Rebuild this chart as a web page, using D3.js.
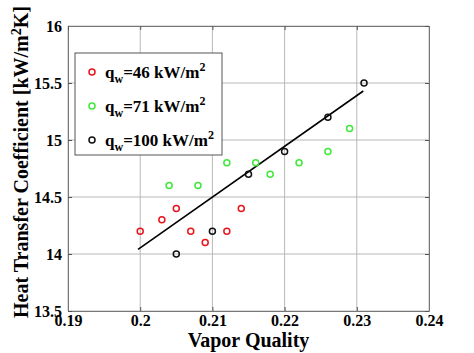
<!DOCTYPE html>
<html>
<head>
<meta charset="utf-8">
<script src="https://cdn.jsdelivr.net/npm/d3@7"></script>
<style>
body { margin: 0; background: #fff; }
text { font-family: "Liberation Serif", "Times New Roman", serif; font-weight: bold; }
</style>
</head>
<body>
<script>
// donnees
var q46 = [[0.200, 14.2], [0.203, 14.3], [0.205, 14.4], [0.207, 14.2], [0.209, 14.1], [0.212, 14.2], [0.214, 14.4]];
var q71 = [[0.204, 14.6], [0.208, 14.6], [0.212, 14.8], [0.216, 14.8], [0.218, 14.7], [0.222, 14.8], [0.226, 14.9], [0.229, 15.1]];
var q100 = [[0.205, 14.0], [0.210, 14.2], [0.215, 14.7], [0.220, 14.9], [0.226, 15.2], [0.231, 15.5]];
var fitLine = [[0.1997, 14.04], [0.2309, 15.43]];
var xTicks = [0.19, 0.2, 0.21, 0.22, 0.23, 0.24];
var yTicks = [13.5, 14, 14.5, 15, 15.5, 16];
var legendNames = ["46", "71", "100"];

var larg = 474, haut = 353;
var pLeft = 68, pRight = 429, pTop = 26, pBottom = 311;

var xScale = d3.scaleLinear().domain([0.19, 0.24]).range([pLeft, pRight]);
var yScale = d3.scaleLinear().domain([13.5, 16]).range([pBottom, pTop]);

var svg = d3.select("body").append("svg")
	.attr("width", larg)
	.attr("height", haut);

// grille
svg.append("g").selectAll("line").data(xTicks).enter().append("line")
	.attr("x1", function(d) { return xScale(d); })
	.attr("x2", function(d) { return xScale(d); })
	.attr("y1", pTop).attr("y2", pBottom)
	.attr("stroke", "#b8b8b8").attr("stroke-width", 1);
svg.append("g").selectAll("line").data(yTicks).enter().append("line")
	.attr("y1", function(d) { return yScale(d); })
	.attr("y2", function(d) { return yScale(d); })
	.attr("x1", pLeft).attr("x2", pRight)
	.attr("stroke", "#b8b8b8").attr("stroke-width", 1);

// axes
var fmt = function(d) { return String(d); };
var gx = svg.append("g").attr("transform", "translate(0," + pBottom + ")")
	.call(d3.axisBottom(xScale).tickValues(xTicks).tickFormat(fmt).tickSizeInner(-4).tickSizeOuter(0).tickPadding(5));
var gy = svg.append("g").attr("transform", "translate(" + pLeft + ",0)")
	.call(d3.axisLeft(yScale).tickValues(yTicks).tickFormat(fmt).tickSizeInner(-4).tickSizeOuter(0).tickPadding(6));
svg.append("g").attr("transform", "translate(0," + pTop + ")")
	.call(d3.axisTop(xScale).tickValues(xTicks).tickFormat("").tickSizeInner(-4).tickSizeOuter(0));
svg.append("g").attr("transform", "translate(" + pRight + ",0)")
	.call(d3.axisRight(yScale).tickValues(yTicks).tickFormat("").tickSizeInner(-4).tickSizeOuter(0));
svg.selectAll(".domain").attr("stroke", "#777");
svg.selectAll(".tick line").attr("stroke", "#555");
svg.selectAll(".tick text").attr("font-size", "16px").attr("fill", "#000")
	.style("font-family", "Liberation Serif").style("font-weight", "bold");
gx.selectAll(".tick text").attr("dy", "0.6em");

// droite de tendance
svg.append("line")
	.attr("x1", xScale(fitLine[0][0])).attr("y1", yScale(fitLine[0][1]))
	.attr("x2", xScale(fitLine[1][0])).attr("y2", yScale(fitLine[1][1]))
	.attr("stroke", "#000").attr("stroke-width", 1.6);

var series = [[q46, "#e8141c"], [q71, "#3ee83a"], [q100, "#111"]];
series.forEach(function(s) {
	svg.append("g").selectAll("circle").data(s[0]).enter().append("circle")
		.attr("cx", function(d) { return xScale(d[0]); })
		.attr("cy", function(d) { return yScale(d[1]); })
		.attr("r", 3)
		.attr("fill", "none")
		.attr("stroke", s[1])
		.attr("stroke-width", 1.5);
});

// legende
var leg = svg.append("g");
leg.append("rect").attr("x", 75).attr("y", 53).attr("width", 147).attr("height", 102)
	.attr("fill", "#fff").attr("stroke", "#555").attr("stroke-width", 1);
series.forEach(function(s, i) {
	var yy = 72 + i * 34;
	leg.append("circle").attr("cx", 92).attr("cy", yy).attr("r", 3)
		.attr("fill", "none").attr("stroke", s[1]).attr("stroke-width", 1.5);
	var t = leg.append("text").attr("x", 105).attr("y", yy + 6).attr("font-size", "17px").attr("fill", "#000");
	t.append("tspan").text("q");
	t.append("tspan").attr("font-size", "12px").attr("dy", 5).text("w");
	t.append("tspan").attr("dy", -5).text("=" + legendNames[i] + " kW/m");
	t.append("tspan").attr("font-size", "12px").attr("dy", -7).text("2");
});

// titres des axes
svg.append("text").attr("x", (pLeft + pRight) / 2).attr("y", 347)
	.attr("text-anchor", "middle").attr("font-size", "20px").attr("fill", "#000")
	.text("Vapor Quality");
var yl = svg.append("text").attr("transform", "translate(28,162) rotate(-90)")
	.attr("text-anchor", "middle").attr("font-size", "20px").attr("fill", "#000");
yl.append("tspan").text("Heat Transfer Coefficient [kW/m");
yl.append("tspan").attr("font-size", "14px").attr("dy", -7).text("2");
yl.append("tspan").attr("dy", 7).text("K]");
</script>
</body>
</html>
